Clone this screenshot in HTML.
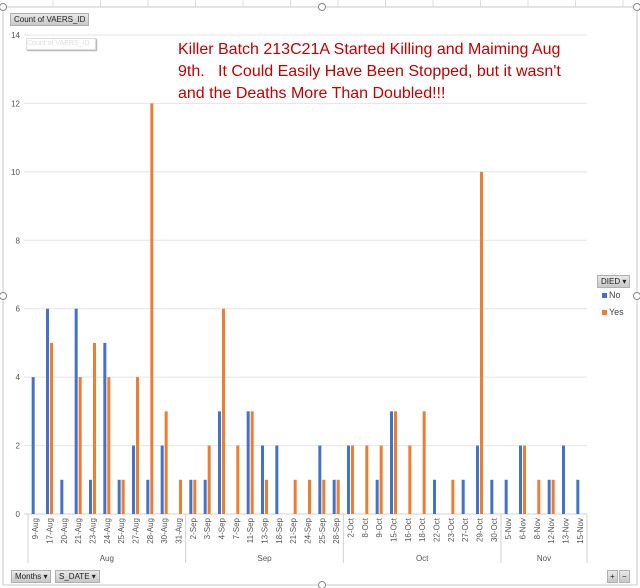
<!DOCTYPE html>
<html><head><meta charset="utf-8"><style>
body{margin:0;width:640px;height:588px;background:#fff;font-family:"Liberation Sans",sans-serif;overflow:hidden;position:relative}
.btn{position:absolute;background:linear-gradient(#e8e8e8,#c8c8c8);border:1px solid #b0b0b0;font-size:8px;color:#222;line-height:11px;padding:0 3px;white-space:nowrap}
</style></head><body>
<svg id="chart" width="640" height="588" style="position:absolute;left:0;top:0">
<g id="bg"></g>
<rect x="3" y="7" width="634" height="578" fill="#fff" stroke="#c8c8c8"/>
<g id="grid"></g><g id="bars"></g><g id="xaxis"></g>
<g fill="#fff" stroke="#888">
<circle cx="3" cy="7" r="3.5"/><circle cx="322" cy="7" r="3.5"/><circle cx="637" cy="7" r="3.5"/>
<circle cx="3" cy="296" r="3.5"/><circle cx="637" cy="296" r="3.5"/><circle cx="322" cy="585" r="3.5"/>
</g>
</svg>
<div class="btn" style="left:10px;top:13px">Count of VAERS_ID</div>
<div style="position:absolute;left:26px;top:38px;width:68px;height:10px;border:1px solid #ddd;box-shadow:1px 1px 1px #aaa;font-size:7px;color:#ddd;line-height:10px;white-space:nowrap;overflow:hidden;background:#fff">Count of VAERS_ID</div>
<div style="position:absolute;left:178px;top:39px;font-size:16px;line-height:22px;color:#c00000;white-space:pre">Killer Batch 213C21A Started Killing and Maiming Aug
9th.   It Could Easily Have Been Stopped, but it wasn't
and the Deaths More Than Doubled!!!</div>
<div class="btn" style="left:597px;top:275px;font-size:8px">DIED ▾</div>
<div style="position:absolute;left:602px;top:290px;font-size:9px;color:#444"><span style="display:inline-block;width:5px;height:5px;background:#4472c4;margin-right:2px"></span>No</div>
<div style="position:absolute;left:602px;top:307px;font-size:9px;color:#444"><span style="display:inline-block;width:5px;height:5px;background:#ed7d31;margin-right:2px"></span>Yes</div>
<div class="btn" style="left:11px;top:570px">Months ▾</div>
<div class="btn" style="left:55px;top:570px">S_DATE ▾</div>
<div class="btn" style="left:607px;top:570px;padding:0 2px">+</div>
<div class="btn" style="left:619px;top:570px;padding:0 2px">−</div>
<script>
const categories=["9-Aug","17-Aug","20-Aug","21-Aug","23-Aug","24-Aug","25-Aug","27-Aug","28-Aug","30-Aug","31-Aug","2-Sep","3-Sep","4-Sep","7-Sep","11-Sep","13-Sep","18-Sep","21-Sep","24-Sep","25-Sep","28-Sep","2-Oct","8-Oct","9-Oct","15-Oct","16-Oct","18-Oct","22-Oct","23-Oct","27-Oct","29-Oct","30-Oct","5-Nov","6-Nov","8-Nov","12-Nov","13-Nov","15-Nov"];
const noValues=[4,6,1,6,1,5,1,2,1,2,0,1,1,3,0,3,2,2,0,0,2,1,2,0,1,3,0,0,1,0,1,2,1,1,2,0,1,2,1];
const yesValues=[0,5,0,4,5,4,1,4,12,3,1,1,2,6,2,3,1,0,1,1,1,1,2,2,2,3,2,3,0,1,0,10,0,0,2,1,1,0,0];
const yTicks=[0,2,4,6,8,10,12,14];
const months=["Aug","Sep","Oct","Nov"];
const monthCounts=[11,11,11,6];
const NS="http://www.w3.org/2000/svg";
const X0=28,X1=587,Y0=514,Y1=35,YMAX=14;
const bw=(X1-X0)/categories.length;
const y=v=>Y0-(v/YMAX)*(Y0-Y1);
const xc=i=>X0+bw*(i+0.5);
function mk(p,t,a){const e=document.createElementNS(NS,t);for(const k in a)e.setAttribute(k,a[k]);p.appendChild(e);return e;}
const bg=document.getElementById('bg'),grid=document.getElementById('grid'),bars=document.getElementById('bars'),xa=document.getElementById('xaxis');
for(let cx=53;cx<640;cx+=47.5){mk(bg,'line',{x1:cx,x2:cx,y1:0,y2:7,stroke:'#ddd'});}
yTicks.forEach(t=>{
 const l=mk(grid,'line',{x1:X0-4,x2:X1,y1:y(t),y2:y(t),stroke:t?'#e4e4e4':'#d0d0d0'});
 
 
 const tx=mk(grid,'text',{x:20,y:y(t)+3,'text-anchor':'end','font-size':8,fill:'#555'});tx.textContent=t;
 
 
});
categories.forEach((c,i)=>{
 const b1=mk(bars,'rect',{x:xc(i)-3.5,y:y(noValues[i]),width:3,height:Y0-y(noValues[i]),fill:'#4472c4'});
 
 
 const b2=mk(bars,'rect',{x:xc(i)+0.5,y:y(yesValues[i]),width:3,height:Y0-y(yesValues[i]),fill:'#ed7d31'});
 
 
 const t=mk(xa,'text',{transform:`translate(${xc(i)+3},518) rotate(-90)`,'text-anchor':'end','font-size':8,fill:'#555'});t.textContent=c;
 
 
});
let start=0;
mk(xa,'line',{x1:X0,x2:X0,y1:Y0,y2:563,stroke:'#d0d0d0'});
months.forEach((m,k)=>{
 const end=start+monthCounts[k];
 const xe=X0+bw*end;
 mk(xa,'line',{x1:xe,x2:xe,y1:Y0,y2:563,stroke:'#d0d0d0'});
 const t=mk(xa,'text',{x:X0+bw*(start+end)/2,y:561,'text-anchor':'middle','font-size':8,fill:'#555'});t.textContent=m;
 
 
 start=end;
});
</script>
</body></html>
